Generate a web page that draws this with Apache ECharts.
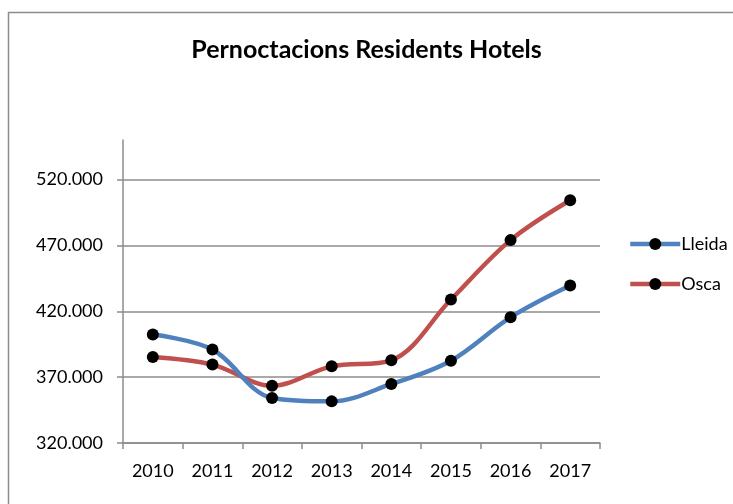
<!DOCTYPE html>
<html>
<head>
<meta charset="utf-8">
<script src="https://cdn.jsdelivr.net/npm/echarts@6/dist/echarts.min.js"></script>
<style>
  html, body { margin: 0; padding: 0; background: #fff; }
  #main { width: 733px; height: 504px; }
</style>
</head>
<body>
<div id="main"></div>
<script>
const years = ['2010', '2011', '2012', '2013', '2014', '2015', '2016', '2017'];
const lleida = [402300, 390900, 354200, 351600, 364800, 382500, 415400, 439500];
const osca = [385300, 379500, 363500, 378200, 382800, 428900, 474000, 504300];
const yMin = 320000, yMax = 550000, yStep = 50000;

const fontFam = 'Lato, "Open Sans", sans-serif';
const blue = '#4F81BD', red = '#C0504D';

function fmt(v) {
  // thousands separator as dot
  return String(v).replace(/\B(?=(\d{3})+(?!\d))/g, '.');
}

let myChart = echarts.init(document.getElementById('main'));
let option = {
  backgroundColor: '#fff',
  animation: false,
  title: {
    text: 'Pernoctacions Residents Hotels',
    left: 'center',
    top: 32,
    textStyle: { fontFamily: fontFam, fontSize: 25, fontWeight: 'bold', color: '#000' }
  },
  graphic: [{
    type: 'rect',
    shape: { x: 8.5, y: 12.5, width: 740, height: 500 },
    style: { fill: 'none', stroke: '#8c8c8c', lineWidth: 1.5 },
    silent: true
  }],
  legend: {
    orient: 'vertical',
    left: 623,
    top: 230,
    itemGap: 22,
    itemWidth: 50,
    itemHeight: 15,
    textStyle: { fontFamily: fontFam, fontSize: 18, color: '#000', padding: [0, 0, 0, -4] },
    data: [
      { name: 'Lleida', itemStyle: { color: '#000' }, lineStyle: { color: blue, width: 4.5 } },
      { name: 'Osca', itemStyle: { color: '#000' }, lineStyle: { color: red, width: 4.5 } }
    ]
  },
  grid: { left: 123, right: 133, top: 140, bottom: 61 },
  xAxis: {
    type: 'category',
    data: years,
    boundaryGap: true,
    axisLine: { lineStyle: { color: '#8c8c8c', width: 1.5 } },
    axisTick: { show: true, length: 6, alignWithLabel: false, lineStyle: { color: '#8c8c8c', width: 1.5 } },
    axisLabel: { interval: 0, fontFamily: fontFam, fontSize: 18, color: '#000', margin: 19 }
  },
  yAxis: {
    type: 'value',
    min: yMin,
    max: yMax,
    interval: yStep,
    axisLine: { show: true, lineStyle: { color: '#8c8c8c', width: 1.5 } },
    axisTick: { show: true, length: 6, lineStyle: { color: '#8c8c8c', width: 1.5 } },
    axisLabel: {
      fontFamily: fontFam, fontSize: 18, color: '#000', margin: 20,
      showMaxLabel: false,
      formatter: function (v) { return (v - yMin) % yStep === 0 ? fmt(v) : ''; }
    },
    splitLine: { show: true, showMaxLine: false, lineStyle: { color: '#8c8c8c', width: 1.5 } }
  },
  series: [
    {
      name: 'Lleida',
      type: 'line',
      smooth: 0.35,
      data: lleida,
      symbol: 'circle',
      symbolSize: 12,
      itemStyle: { color: '#000' },
      lineStyle: { color: blue, width: 4.5 },
      z: 3
    },
    {
      name: 'Osca',
      type: 'line',
      smooth: 0.35,
      data: osca,
      symbol: 'circle',
      symbolSize: 12,
      itemStyle: { color: '#000' },
      lineStyle: { color: red, width: 4.5 },
      z: 2
    }
  ]
};
myChart.setOption(option);
</script>
</body>
</html>
